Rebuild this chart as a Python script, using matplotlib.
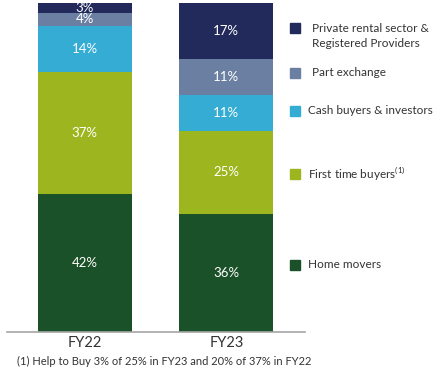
import matplotlib
matplotlib.use('Agg')
import matplotlib.pyplot as plt
import numpy as np

plt.rcParams['font.family'] = ['Lato', 'DejaVu Sans']
plt.rcParams['mathtext.fontset'] = 'custom'
plt.rcParams['mathtext.rm'] = 'Lato'

years = ['FY22', 'FY23']
segments = ['Home movers', 'First time buyers$^{\\mathrm{(1)}}$', 'Cash buyers & investors',
            'Part exchange', 'Private rental sector &\nRegistered Providers']
home_movers = [42, 36]
first_time = [37, 25]
cash_buyers = [14, 11]
part_exchange = [4, 11]
private_rental = [3, 17]
colors = ['#1b5128', '#9db61f', '#34acd3', '#6b7fa2', '#212a5b']
footnote = '(1) Help to Buy 3% of 25% in FY23 and 20% of 37% in FY22'

series = [home_movers, first_time, cash_buyers, part_exchange, private_rental]

fig = plt.figure(figsize=(4.33, 3.73), dpi=100)
ax = fig.add_axes([0.016, 0.110, 0.688, 0.882])

x = np.arange(len(years))
bottom = np.zeros(len(years))
for vals, col in zip(series, colors):
    bars = ax.bar(x, vals, bottom=bottom, color=col, width=0.664)
    for xi, b, v in zip(x, bottom, vals):
        ax.text(xi, b + v / 2, '%d%%' % v, ha='center', va='center',
                color='white', fontsize=9.5)
    bottom += np.array(vals)

ax.set_xlim(-0.551, 1.555)
ax.set_ylim(0, 100)
for s in ['top', 'right', 'left']:
    ax.spines[s].set_visible(False)
ax.spines['bottom'].set_color('#a6a6a6')
ax.spines['bottom'].set_linewidth(1.2)
ax.set_yticks([])
ax.set_xticks(x)
ax.set_xticklabels(years, fontsize=10.5, color='#333333')
ax.tick_params(axis='x', length=0, pad=3)

fig.text(17 / 433, 1 - 361 / 373, footnote, fontsize=8, color='#333333', va='center')

# legend, placed by hand
leg_y = [265, 174, 111, 73, 28]
for lab, col, yy in zip(segments, colors, leg_y):
    fy = 1 - yy / 373
    fig.patches.append(plt.Rectangle((290 / 433, fy - 5 / 373), 10 / 433, 10 / 373,
                                     transform=fig.transFigure, color=col))
    lines = lab.split('\n')
    tx = 312 / 433 if len(lines) > 1 or lab == 'Part exchange' else 308 / 433
    for i, line in enumerate(lines):
        fig.text(tx, fy - i * 15 / 373, line, fontsize=8.5,
                 color='#333333', va='center')

fig.savefig('out.png', dpi=100)
